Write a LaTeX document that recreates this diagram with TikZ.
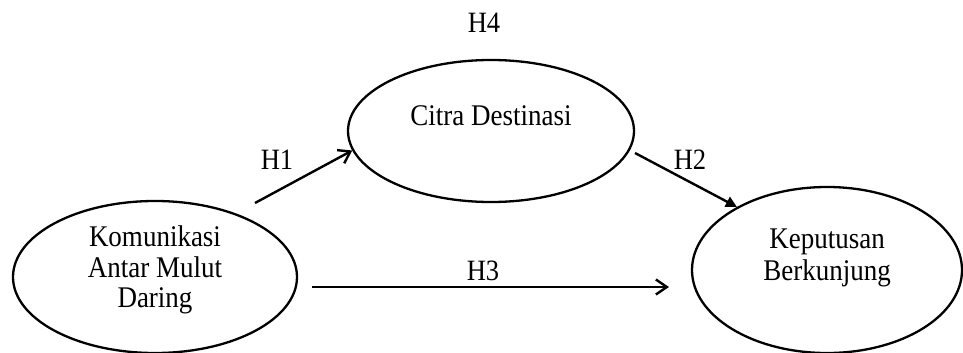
\documentclass[tikz,border=0pt]{standalone}
\usepackage{fontspec}
\setmainfont{Liberation Serif}[FakeStretch=0.9]
\usetikzlibrary{shapes.geometric,arrows.meta}
\begin{document}
\begin{tikzpicture}[x=1pt,y=-1pt,
  construct/.style={draw, ellipse, line width=2.3pt, inner sep=0pt},
  txt/.style={font=\fontsize{30}{30.5}\selectfont, align=center, inner sep=0pt},
  hyp/.style={font=\fontsize{29.5}{32}\selectfont, inner sep=0pt, anchor=base},
  link/.style={line width=2.4pt},
  barb/.style={-{Straight Barb[length=11pt,width=15pt]}},
  solidtip/.style={-{Triangle[length=11pt,width=11pt]}}
]
\useasboundingbox (0,0) rectangle (963,353);

% constructs
\node[construct, minimum width=284pt, minimum height=152pt] (kom) at (155,277) {};
\node[construct, minimum width=286pt, minimum height=142pt] (cit) at (491,131) {};
\node[construct, minimum width=270pt, minimum height=166pt] (kep) at (827,270) {};

% construct names
\node[txt] (komtxt) at (155,270) {Komunikasi\\Antar Mulut\\Daring};
\node[txt, anchor=base] (cittxt) at (491,125) {Citra Destinasi};
\node[txt, font=\fontsize{30}{32}\selectfont] (keptxt) at (827,258) {Keputusan\\Berkunjung};

% free ends of the paths
\coordinate (h1s) at (255,203);
\coordinate (h2s) at (635,153);
\coordinate (h3s) at (312,287);
\coordinate (h3e) at (669,287);

% paths
\draw[link, barb] (h1s) -- (cit.188);
\draw[link, solidtip] (h2s) -- (kep.145);
\draw[link, barb] (h3s) -- (h3e);

% hypothesis labels
\node[hyp] (h4) at (484,33) {H4};
\node[hyp] (h1) at (277,169) {H1};
\node[hyp] (h2) at (690,169) {H2};
\node[hyp] (h3) at (483,280) {H3};
\end{tikzpicture}
\end{document}
